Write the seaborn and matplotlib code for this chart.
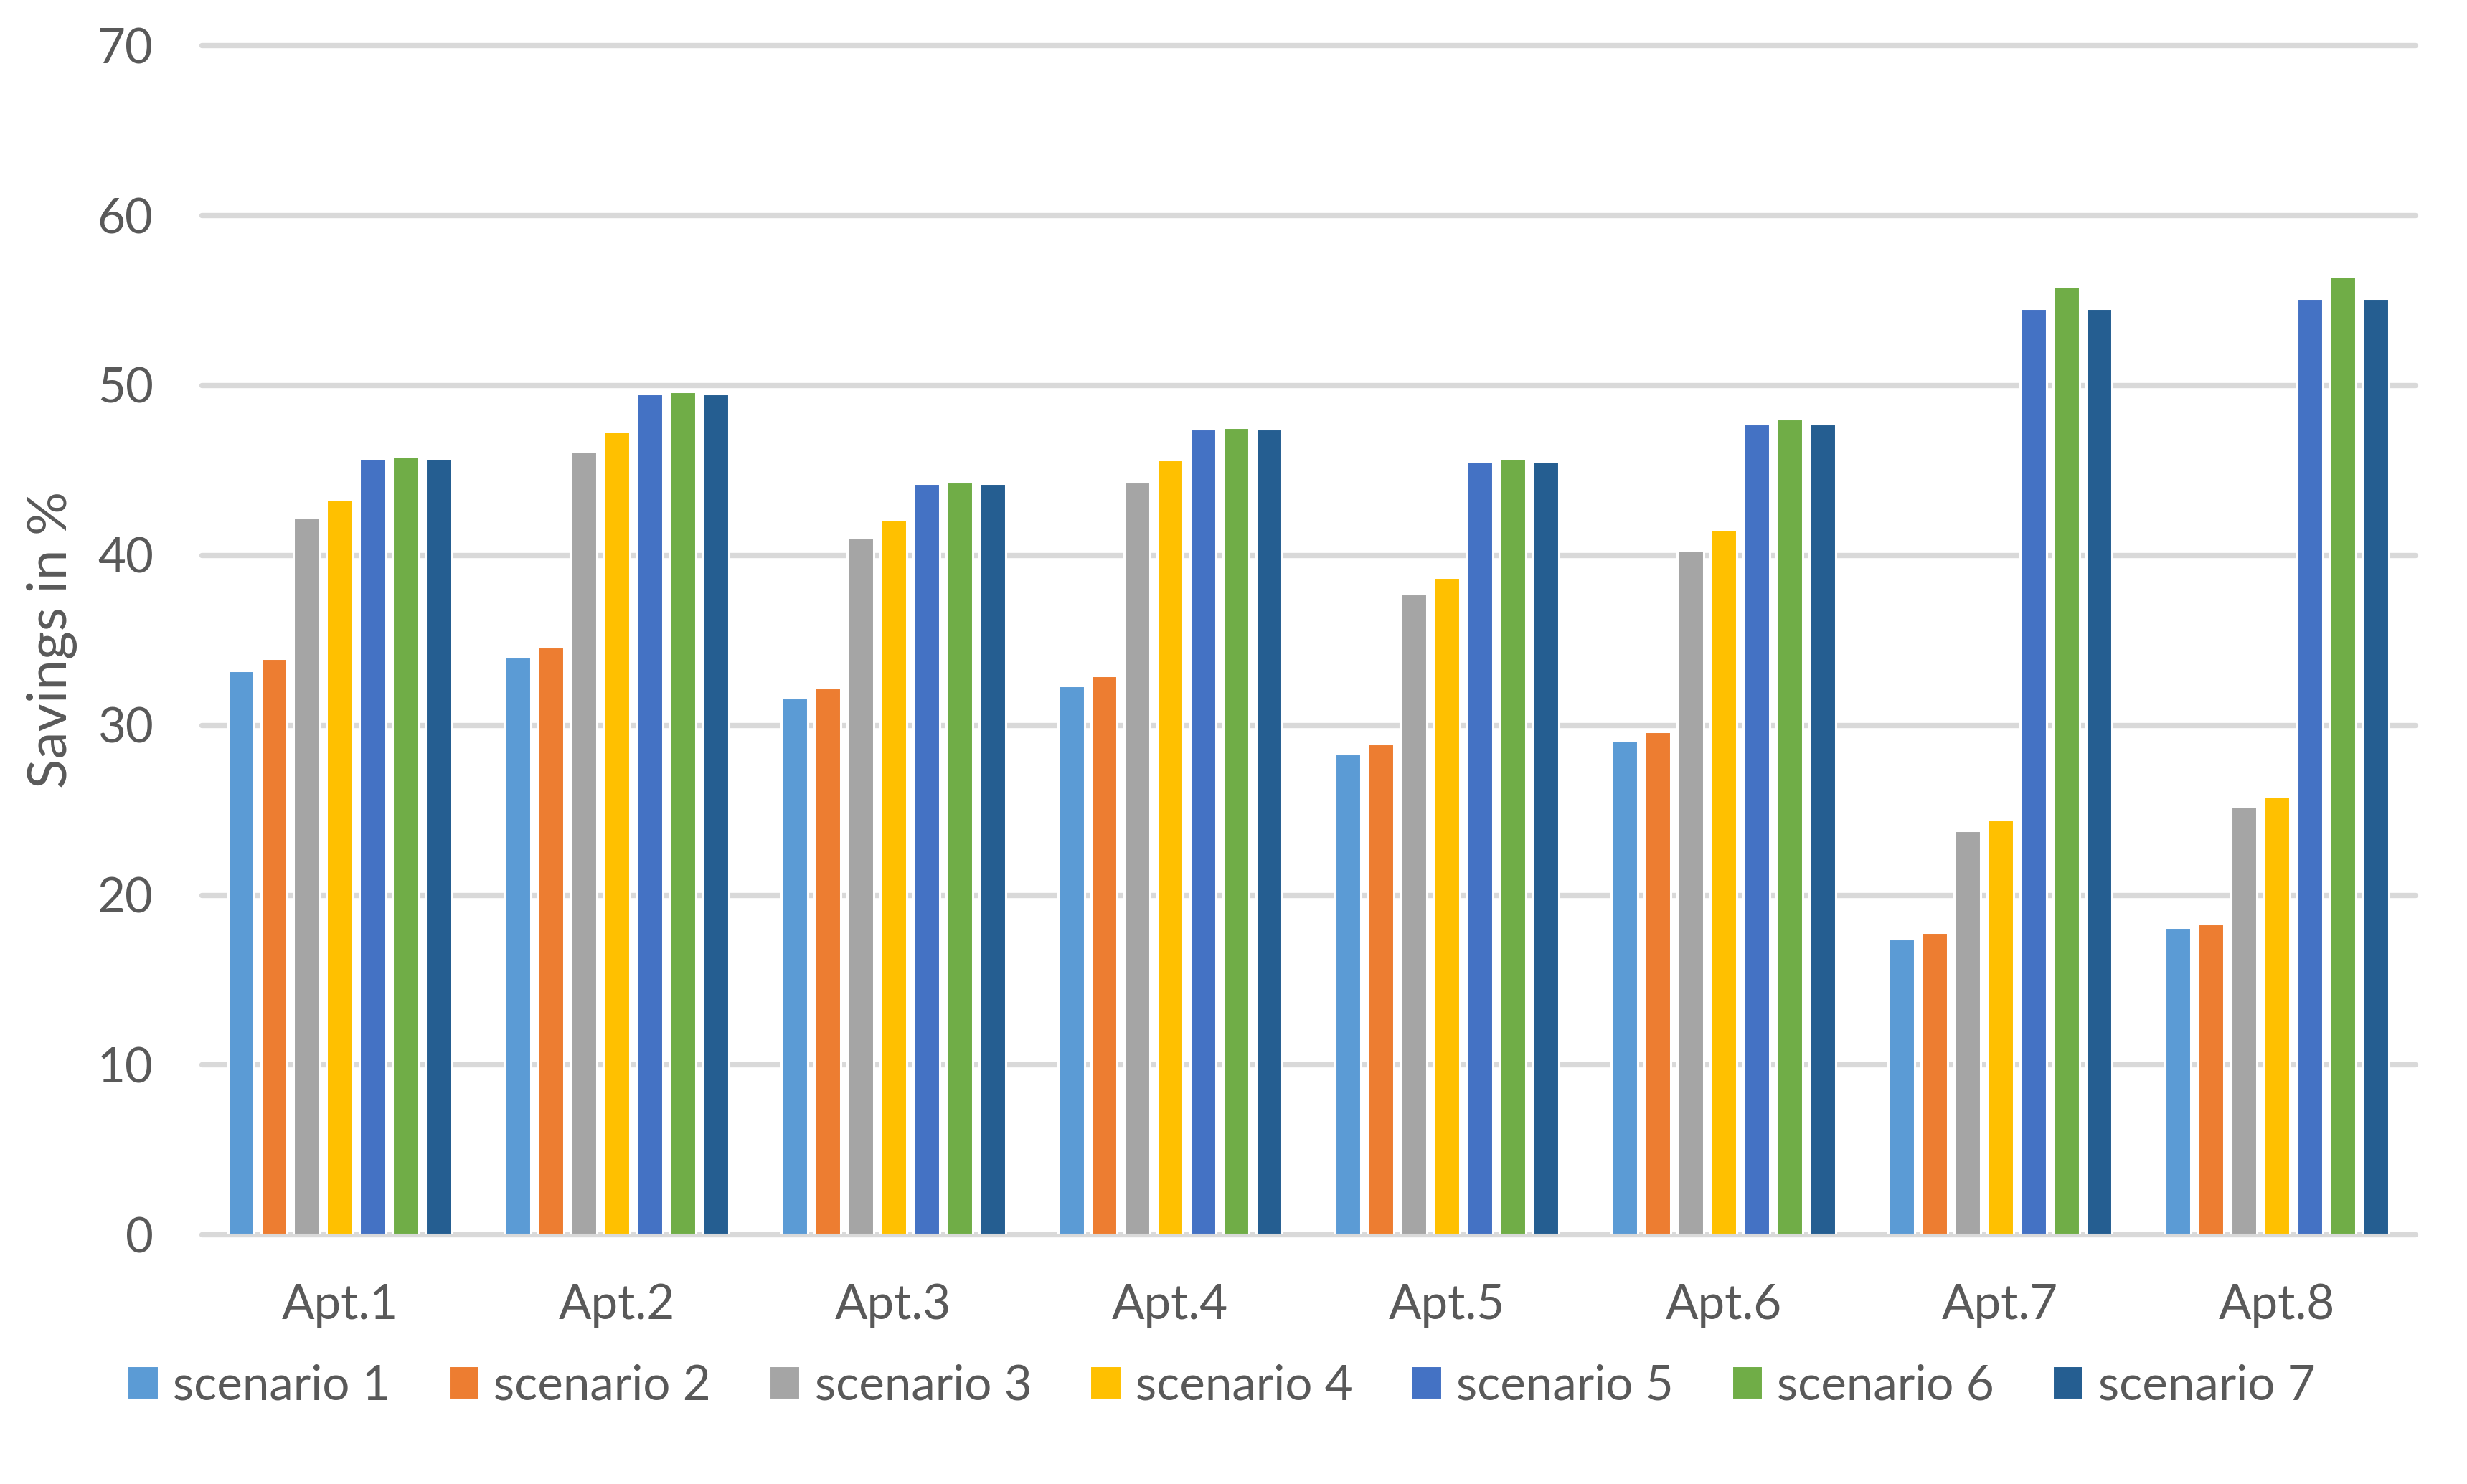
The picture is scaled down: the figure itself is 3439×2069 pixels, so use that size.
import numpy as np
import pandas as pd
import seaborn as sns
from matplotlib import pyplot as plt

apartments = ['Apt.1', 'Apt.2', 'Apt.3', 'Apt.4', 'Apt.5', 'Apt.6', 'Apt.7', 'Apt.8']
scenarios = ['scenario 1', 'scenario 2', 'scenario 3', 'scenario 4',
             'scenario 5', 'scenario 6', 'scenario 7']

# savings in % per scenario, one value per apartment
s1 = [33.2, 34.0, 31.6, 32.3, 28.3, 29.1, 17.4, 18.1]
s2 = [33.9, 34.6, 32.2, 32.9, 28.9, 29.6, 17.8, 18.3]
s3 = [42.2, 46.1, 41.0, 44.3, 37.7, 40.3, 23.8, 25.2]
s4 = [43.3, 47.3, 42.1, 45.6, 38.7, 41.5, 24.4, 25.8]
s5 = [45.7, 49.5, 44.2, 47.4, 45.5, 47.7, 54.5, 55.1]
s6 = [45.8, 49.6, 44.3, 47.5, 45.7, 48.0, 55.8, 56.4]
s7 = [45.7, 49.5, 44.2, 47.4, 45.5, 47.7, 54.5, 55.1]

colors = ['#5B9BD5', '#ED7D31', '#A5A5A5', '#FFC000', '#4472C4', '#70AD47', '#255E91']

rows = []
for name, vals in zip(scenarios, [s1, s2, s3, s4, s5, s6, s7]):
    for apt, v in zip(apartments, vals):
        rows.append({'apt': apt, 'scenario': name, 'savings': v})
df = pd.DataFrame(rows)

sns.set_style('white')
plt.rcParams['font.family'] = ['Lato', 'DejaVu Sans']
TEXT = '#595959'
GRID = '#D9D9D9'

fig, ax = plt.subplots(figsize=(15.632, 9.405), dpi=220)
fig.subplots_adjust(left=0.0817, right=0.979, top=0.9695, bottom=0.168)

sns.barplot(data=df, x='apt', y='savings', hue='scenario', palette=colors,
            width=0.834, gap=0.2, saturation=1, ax=ax, zorder=3)

ax.set_ylim(0, 70)
ax.set_xlim(-0.5, 7.5)
ax.set_yticks(np.arange(0, 71, 10))
ax.set_axisbelow(True)
ax.yaxis.grid(True, color=GRID, linewidth=2.4)
for gl in ax.yaxis.get_gridlines():
    gl.set_clip_on(False)
for sp in ax.spines.values():
    sp.set_visible(False)

ax.tick_params(axis='both', length=0, labelsize=22, colors=TEXT)
ax.tick_params(axis='y', pad=22)
ax.tick_params(axis='x', pad=22)
ax.set_xlabel('')
ax.set_ylabel('Savings in %', fontsize=25, color=TEXT, labelpad=9)

ax.legend(loc='center', bbox_to_anchor=(0.495, 0.066), bbox_transform=fig.transFigure,
          ncol=7, frameon=False, fontsize=22, labelcolor=TEXT,
          handlelength=0.65, handleheight=0.7, handletextpad=0.3, columnspacing=1.2)

fig.savefig('out.png', dpi=220)
